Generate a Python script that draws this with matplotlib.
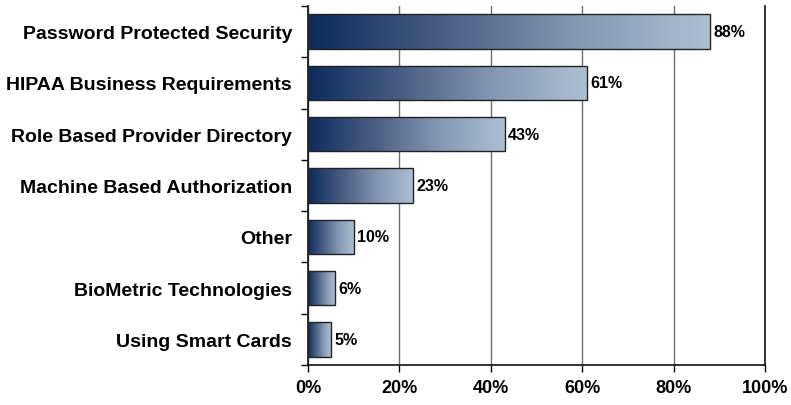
import numpy as np
import matplotlib.pyplot as plt
from matplotlib.colors import LinearSegmentedColormap
from matplotlib.patches import Rectangle

plt.rcParams['font.family'] = ['Liberation Sans', 'DejaVu Sans']
plt.rcParams['font.weight'] = 'bold'

categories = ["Password Protected Security", "HIPAA Business Requirements",
              "Role Based Provider Directory", "Machine Based Authorization",
              "Other", "BioMetric Technologies", "Using Smart Cards"]
values = [88, 61, 43, 23, 10, 6, 5]
xticks = [0, 20, 40, 60, 80, 100]

# navy -> pale steel blue, stretched across each bar
cmap = LinearSegmentedColormap.from_list(
    "bar_grad", ["#0b2c5c", "#4a5e84", "#8497b2", "#aebfd2"])

fig = plt.figure(figsize=(7.91, 4.06), dpi=100)
ax = fig.add_axes([308 / 791, 1 - 366 / 406, 457 / 791, 359 / 406])

n = len(categories)
ypos = np.arange(n)[::-1]
h = 0.67
grad = np.linspace(0, 1, 256).reshape(1, -1)

for y, v in zip(ypos, values):
    im = ax.imshow(grad, cmap=cmap, aspect='auto', interpolation='bilinear',
                   extent=(0, v, y - h / 2, y + h / 2), zorder=2)
    rect = Rectangle((0, y - h / 2), v, h, facecolor='none',
                     edgecolor='#222222', linewidth=1.0, zorder=3)
    ax.add_patch(rect)
    im.set_clip_path(rect)
    ax.text(v + 0.7, y, f"{v}%", va='center', ha='left',
            fontsize=11.5, fontweight='bold', zorder=4)

ax.set_xlim(0, 100)
ax.set_ylim(-0.5, n - 0.5)
ax.set_xticks(xticks)
ax.set_xticklabels([f"{t}%" for t in xticks], fontsize=13, fontweight='bold')
ax.set_yticks(ypos)
ax.set_yticklabels(categories, fontsize=14, fontweight='bold')
ax.set_yticks(np.arange(n + 1) - 0.5, minor=True)
ax.tick_params(axis='y', which='major', length=0, pad=11.5)
ax.tick_params(axis='y', which='minor', length=5, width=1, direction='out')
ax.tick_params(axis='x', length=5, width=1, direction='out', pad=5)

ax.grid(axis='x', color='#6e6e6e', linewidth=1.0, zorder=1)
ax.set_axisbelow(True)
for side in ('left', 'bottom', 'right'):
    ax.spines[side].set_color('#111111')
    ax.spines[side].set_linewidth(1.2)
ax.spines['top'].set_visible(False)

fig.savefig("out.png", dpi=100)
